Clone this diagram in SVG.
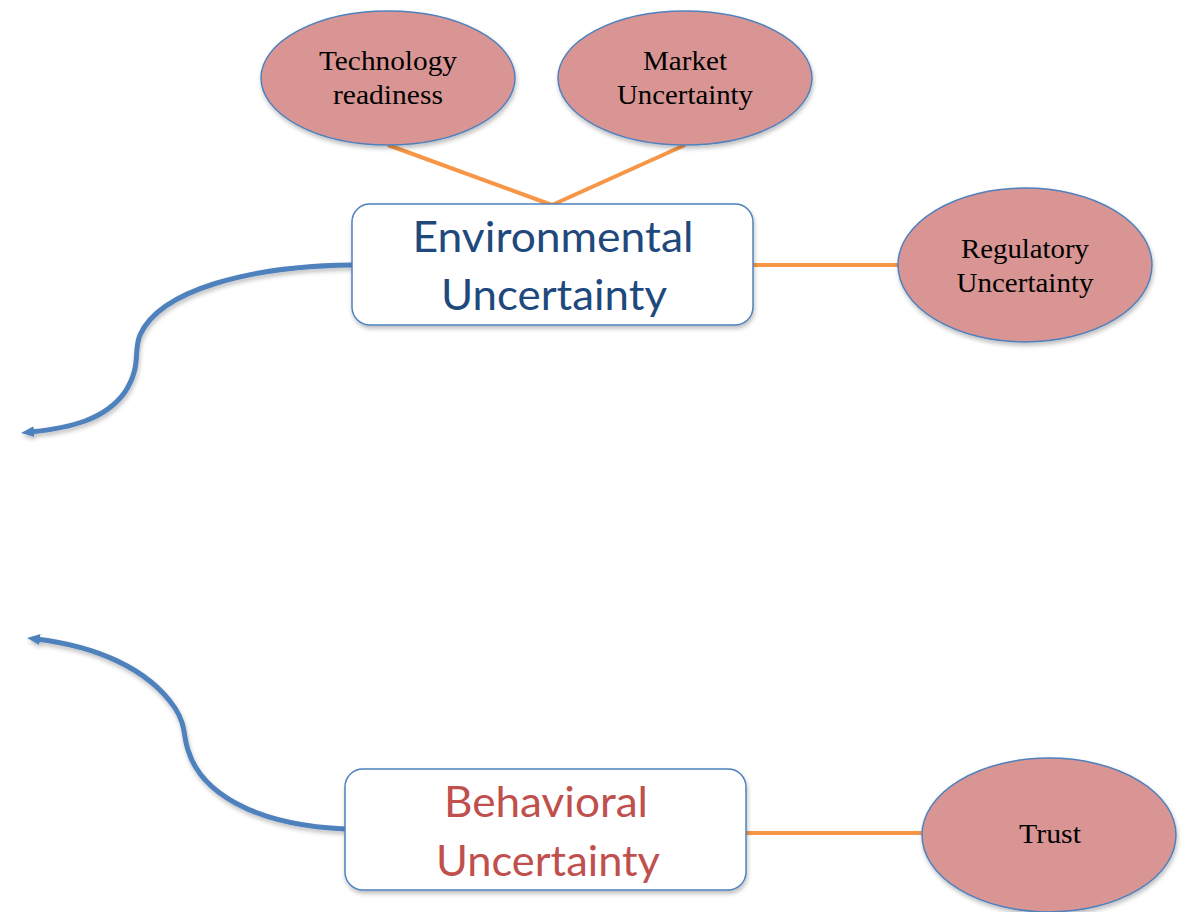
<svg xmlns="http://www.w3.org/2000/svg" width="1189" height="912" viewBox="0 0 1189 912">
<defs>
<style>
.ell{fill:#D99594;stroke:#4F81BD;stroke-width:1.5}
.box{fill:#FFFFFF;stroke:#4F81BD;stroke-width:1.5}
.et{font-family:"Liberation Serif","Times New Roman",serif;font-size:28px;fill:#000;text-anchor:middle}
.bt{font-family:Lato,"Open Sans",sans-serif;font-size:42px;text-anchor:middle}
.org{stroke:#F79646;stroke-width:4;fill:none}
.blu{stroke:#4F81BD;stroke-width:5;fill:none;marker-end:url(#arr)}
</style>
<marker id="arr" markerWidth="14" markerHeight="12" refX="4" refY="6" orient="auto" markerUnits="userSpaceOnUse">
<path d="M0,0.5 L13,6 L0,11.5 z" fill="#4F81BD"/>
</marker>
<filter id="sh" x="-10%" y="-10%" width="120%" height="130%">
<feDropShadow dx="1" dy="3" stdDeviation="2" flood-color="#000" flood-opacity="0.25"/>
</filter>
</defs>
<rect width="1189" height="912" fill="#FFFFFF"/>
<g id="connectors">
<line class="org" x1="388" y1="145" x2="552" y2="205"/>
<line class="org" x1="685" y1="145" x2="552" y2="205"/>
<line class="org" x1="753" y1="265" x2="899" y2="265"/>
<line class="org" x1="746" y1="833" x2="922" y2="833"/>
<path class="blu" filter="url(#sh)" d="M352,265 C250,266 160,290 140,335 C133,352 142,365 125,392 C105,420 70,428 30,432"/>
<path class="blu" filter="url(#sh)" d="M345,829 C250,825 200,790 188,750 C183,735 186,725 175,708 C148,668 95,646 36,639"/>
</g>
<g id="tech">
<ellipse class="ell" filter="url(#sh)" cx="388" cy="78" rx="127" ry="67"/>
<text class="et" x="388" y="70" textLength="138" lengthAdjust="spacingAndGlyphs">Technology</text>
<text class="et" x="388" y="104" textLength="110" lengthAdjust="spacingAndGlyphs">readiness</text>
</g>
<g id="market">
<ellipse class="ell" filter="url(#sh)" cx="685" cy="78" rx="127" ry="67"/>
<text class="et" x="685" y="70" textLength="84" lengthAdjust="spacingAndGlyphs">Market</text>
<text class="et" x="685" y="104" textLength="136" lengthAdjust="spacingAndGlyphs">Uncertainty</text>
</g>
<g id="env">
<rect class="box" filter="url(#sh)" x="352" y="204" width="401" height="121" rx="18"/>
<text class="bt" x="553" y="252" fill="#1F497D" textLength="281" lengthAdjust="spacingAndGlyphs">Environmental</text>
<text class="bt" x="554" y="310" fill="#1F497D" textLength="226" lengthAdjust="spacingAndGlyphs">Uncertainty</text>
</g>
<g id="reg">
<ellipse class="ell" filter="url(#sh)" cx="1025" cy="265" rx="127" ry="77"/>
<text class="et" x="1025" y="258" textLength="128" lengthAdjust="spacingAndGlyphs">Regulatory</text>
<text class="et" x="1025" y="292" textLength="137" lengthAdjust="spacingAndGlyphs">Uncertainty</text>
</g>
<g id="beh">
<rect class="box" filter="url(#sh)" x="345" y="769" width="401" height="121" rx="18"/>
<text class="bt" x="546" y="817" fill="#C0504D" textLength="204" lengthAdjust="spacingAndGlyphs">Behavioral</text>
<text class="bt" x="548" y="876" fill="#C0504D" textLength="224" lengthAdjust="spacingAndGlyphs">Uncertainty</text>
</g>
<g id="trust">
<ellipse class="ell" filter="url(#sh)" cx="1049" cy="835" rx="127" ry="77"/>
<text class="et" x="1050" y="843" textLength="62" lengthAdjust="spacingAndGlyphs">Trust</text>
</g>
</svg>
